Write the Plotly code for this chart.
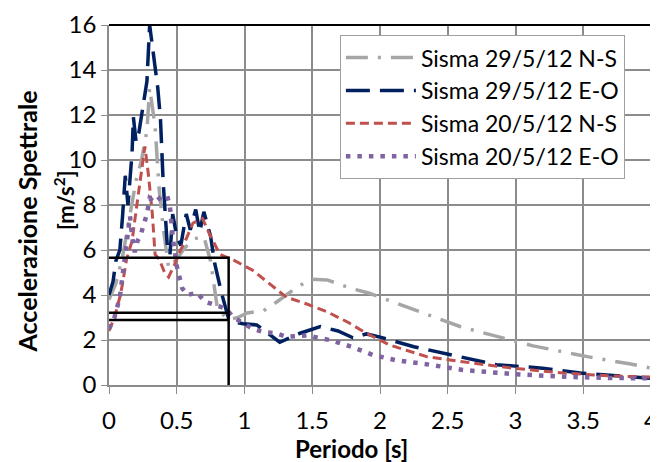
import plotly.graph_objects as go

# ---- data ----
ns29_x = [0, 0.05, 0.1, 0.15, 0.2, 0.24, 0.28, 0.30, 0.34, 0.37, 0.40, 0.44, 0.50, 0.56, 0.63, 0.70,
          0.75, 0.80, 0.88, 0.95, 1.02, 1.14, 1.24, 1.40, 1.50, 1.61, 1.80, 1.91, 2.2, 2.31, 2.59,
          2.71, 2.98, 3.13, 3.43, 3.54, 3.85, 4.0]
ns29_y = [3.8, 4.5, 5.7, 7.5, 9.1, 10.0, 11.3, 13.2, 11.5, 8.7, 7.0, 5.2, 5.6, 6.1, 6.5, 6.6,
          5.5, 3.4, 2.9, 3.0, 3.2, 3.3, 3.7, 4.4, 4.7, 4.67, 4.27, 4.1, 3.47, 3.2, 2.6,
          2.4, 2.0, 1.74, 1.38, 1.25, 0.93, 0.75]

eo29_x = [0, 0.03, 0.05, 0.08, 0.10, 0.12, 0.14, 0.17, 0.18, 0.20, 0.22, 0.25, 0.28, 0.30, 0.33,
          0.36, 0.38, 0.40, 0.43, 0.45, 0.47, 0.50, 0.53, 0.57, 0.60, 0.64, 0.67, 0.70, 0.75, 0.78,
          0.83, 0.88, 0.92, 0.99, 1.09, 1.15, 1.26, 1.41, 1.56, 1.69, 1.80, 1.90, 2.0, 2.25, 2.59,
          2.86, 3.2, 3.48, 4.0]
eo29_y = [4.0, 4.6, 5.5, 6.0, 7.5, 9.3, 8.0, 10.3, 11.9, 10.8, 11.2, 12.3, 13.5, 16.0, 14.6,
          13.2, 11.8, 9.0, 6.2, 5.8, 7.6, 6.6, 6.2, 7.6, 6.9, 7.8, 6.8, 7.7, 6.6, 5.4,
          4.1, 3.0, 2.8, 2.72, 2.67, 2.4, 1.9, 2.3, 2.6, 2.4, 2.1, 2.27, 2.13, 1.7, 1.25,
          0.9, 0.75, 0.53, 0.3]

ns20_x = [0, 0.04, 0.08, 0.10, 0.13, 0.17, 0.21, 0.24, 0.265, 0.29, 0.32, 0.34, 0.37, 0.41, 0.44,
          0.48, 0.52, 0.57, 0.62, 0.69, 0.75, 0.82, 0.92, 1.06, 1.21, 1.31, 1.46, 1.61, 1.76,
          1.90, 2.07, 2.35, 2.69, 2.98, 3.35, 3.72, 4.0]
ns20_y = [2.4, 3.0, 3.9, 4.5, 5.6, 6.4, 8.2, 9.6, 10.6, 9.4, 7.6, 5.8, 5.6, 5.0, 4.8,
          5.3, 5.9, 6.5, 7.2, 7.4, 6.6, 5.8, 5.55, 5.1, 4.36, 3.9, 3.6, 3.25, 2.8,
          2.3, 1.78, 1.25, 0.97, 0.75, 0.53, 0.4, 0.35]

eo20_x = [0, 0.04, 0.08, 0.10, 0.12, 0.14, 0.155, 0.17, 0.19, 0.21, 0.23, 0.26, 0.28, 0.30, 0.34,
          0.39, 0.43, 0.45, 0.47, 0.50, 0.52, 0.54, 0.58, 0.65, 0.71, 0.78, 0.86, 0.92, 0.99,
          1.06, 1.14, 1.23, 1.31, 1.46, 1.63, 1.79, 1.95, 2.12, 2.37, 2.61, 2.98, 3.38, 3.72, 4.0]
eo20_y = [2.5, 3.0, 3.9, 4.9, 5.6, 6.9, 7.5, 6.6, 5.9, 6.4, 6.6, 7.2, 7.6, 8.3, 8.1,
          8.4, 8.4, 7.9, 6.6, 5.3, 4.8, 4.3, 4.0, 4.1, 3.7, 3.55, 3.4, 3.0, 2.75,
          2.5, 2.35, 2.3, 2.14, 2.2, 2.0, 1.7, 1.33, 1.1, 0.9, 0.67, 0.49, 0.36, 0.31, 0.3]

# black reference box (period limit and spectral levels)
box_T = 0.883
box_levels = [5.66, 3.21, 2.89]

names = ["Sisma 29/5/12 N-S", "Sisma 29/5/12 E-O", "Sisma 20/5/12 N-S", "Sisma 20/5/12 E-O"]

FONT = "Lato"
GRID = "#8C8C8C"

fig = go.Figure()

fig.add_trace(go.Scatter(x=ns29_x, y=ns29_y, mode="lines", name=names[0],
                         line=dict(color="#A6A6A6", width=3.5, dash="22px,10px,3px,10px")))
fig.add_trace(go.Scatter(x=eo29_x, y=eo29_y, mode="lines", name=names[1],
                         line=dict(color="#002060", width=3.5, dash="24px,10px")))
fig.add_trace(go.Scatter(x=ns20_x, y=ns20_y, mode="lines", name=names[2],
                         line=dict(color="#C0504D", width=3, dash="9px,5px")))
fig.add_trace(go.Scatter(x=eo20_x, y=eo20_y, mode="lines", name=names[3],
                         line=dict(color="#8064A2", width=4.5, dash="4.5px,7px")))

# black box
bx = [0, box_T, box_T, None, 0, box_T, None, 0, box_T]
by = [box_levels[0], box_levels[0], 0, None, box_levels[1], box_levels[1], None,
      box_levels[2], box_levels[2]]
fig.add_trace(go.Scatter(x=bx, y=by, mode="lines", showlegend=False, hoverinfo="skip",
                         line=dict(color="black", width=2.5)))

# page body adds an 8px margin: figure is 650x454 so the whole page is 658x462
fig.update_layout(
    width=650, height=454,
    margin=dict(l=101, r=7, t=17, b=77, autoexpand=False),
    paper_bgcolor="white", plot_bgcolor="white",
    font=dict(family=FONT, size=23, color="black"),
    showlegend=True,
    legend=dict(x=0.426, y=0.972, xanchor="left", yanchor="top",
                bgcolor="white", bordercolor="#A0A0A0", borderwidth=1,
                font=dict(family=FONT, size=23), tracegroupgap=0, itemwidth=70),
    xaxis=dict(range=[0, 4], dtick=0.5, tick0=0, showgrid=True, gridcolor=GRID, gridwidth=1.5,
               showline=True, linecolor=GRID, linewidth=1.5, ticks="outside", ticklen=7,
               tickcolor=GRID, tickfont=dict(family=FONT, size=24), zeroline=False,
               automargin=False, ticklabeloverflow="allow", ticklabelstandoff=6),
    yaxis=dict(range=[0, 16], dtick=2, tick0=0, showgrid=True, gridcolor=GRID, gridwidth=1.5,
               showline=True, linecolor=GRID, linewidth=1.5, ticks="outside", ticklen=6,
               tickcolor=GRID, tickfont=dict(family=FONT, size=24), zeroline=False,
               automargin=False),
)

# top and right black borders
fig.add_shape(type="line", xref="paper", yref="paper", x0=0, x1=1, y0=1, y1=1,
              line=dict(color="black", width=2))
fig.add_shape(type="line", xref="paper", yref="paper", x0=1, x1=1, y0=0, y1=1,
              line=dict(color="black", width=2))

# axis titles
fig.add_annotation(text="<b>Periodo [s]</b>", xref="paper", yref="paper",
                   x=0.448, y=-0.175, showarrow=False, xanchor="center", yanchor="middle",
                   font=dict(family=FONT, size=24))
fig.add_annotation(text="<b>Accelerazione Spettrale</b>", xref="paper", yref="paper",
                   x=-0.152, y=0.453, textangle=-90, showarrow=False, xanchor="center",
                   yanchor="middle", font=dict(family=FONT, size=25))
fig.add_annotation(text="<b>[m/s<sup>2</sup>]</b>", xref="paper", yref="paper",
                   x=-0.081, y=0.514, textangle=-90, showarrow=False, xanchor="center",
                   yanchor="middle", font=dict(family=FONT, size=22))

fig.write_html("out.html")
